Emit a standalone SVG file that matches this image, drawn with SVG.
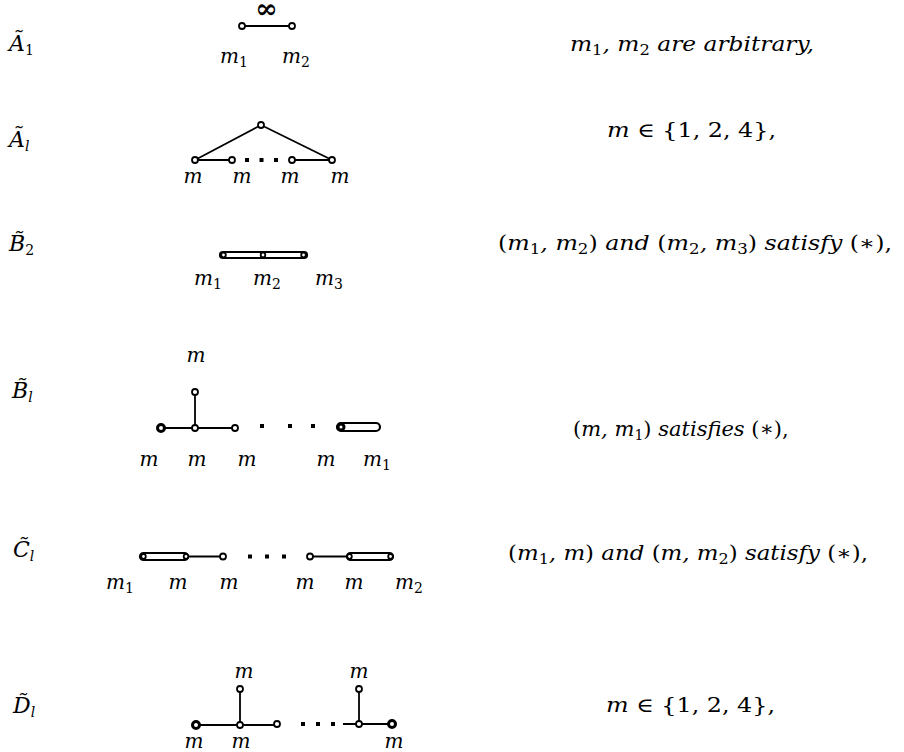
<svg xmlns="http://www.w3.org/2000/svg" width="904" height="752" viewBox="0 0 904 752">
<style>
.t{font-family:"DejaVu Serif","Liberation Serif",serif;font-style:italic;font-size:20px;fill:#000}
.L{font-family:"DejaVu Serif","Liberation Serif",serif;font-style:italic;font-size:22px;fill:#000}
.s{font-size:14px;font-style:normal}
.si{font-size:14px}
.u{font-style:normal}
.e{stroke:#000;stroke-width:1.8;fill:none}
.n{fill:#fff;stroke:#000;stroke-width:1.8}
.nb{fill:#fff;stroke:#000;stroke-width:3}
.db{fill:#fff;stroke:#000;stroke-width:2.2}
.d{fill:#000}
</style>
<rect width="904" height="752" fill="#fff"/>

<!-- Row labels -->
<g id="label-A1"><text class="L" x="9" y="51">Ã<tspan class="s" dy="4">1</tspan></text></g>
<g id="label-Al"><text class="L" x="9" y="147">Ã<tspan class="si" dy="4">l</tspan></text></g>
<g id="label-B2"><text class="L" x="9" y="251">B̃<tspan class="s" dy="4">2</tspan></text></g>
<g id="label-Bl"><text class="L" x="12" y="398">B̃<tspan class="si" dy="4">l</tspan></text></g>
<g id="label-Cl"><text class="L" x="13" y="557">C̃<tspan class="si" dy="4">l</tspan></text></g>
<g id="label-Dl"><text class="L" x="13" y="713">D̃<tspan class="si" dy="4">l</tspan></text></g>

<!-- Connectors -->
<g id="connectors">
  <!-- A1 -->
  <line class="e" x1="242" y1="26" x2="292" y2="26"/>
  <!-- Al -->
  <line class="e" x1="261" y1="125" x2="195" y2="160"/>
  <line class="e" x1="261" y1="125" x2="332" y2="160"/>
  <line class="e" x1="195" y1="160" x2="232" y2="160"/>
  <line class="e" x1="292" y1="160" x2="332" y2="160"/>
  <!-- B2 -->
  <rect class="db" x="220" y="252" width="87" height="6" rx="3"/>
  <!-- Bl -->
  <line class="e" x1="195" y1="392" x2="195" y2="428"/>
  <line class="e" x1="161" y1="428" x2="235" y2="428"/>
  <rect class="db" x="337" y="423" width="43" height="8" rx="4"/>
  <!-- Cl -->
  <rect class="db" x="140" y="553" width="48" height="7" rx="3.5"/>
  <line class="e" x1="188" y1="556.5" x2="223" y2="556.5"/>
  <line class="e" x1="310" y1="556.5" x2="347" y2="556.5"/>
  <rect class="db" x="347" y="553" width="46" height="7" rx="3.5"/>
  <!-- Dl -->
  <line class="e" x1="196" y1="725" x2="277" y2="725"/>
  <line class="e" x1="240" y1="689" x2="240" y2="725"/>
  <line class="e" x1="343" y1="724" x2="392" y2="724"/>
  <line class="e" x1="359" y1="689" x2="359" y2="724"/>
</g>

<!-- Diagram A1 -->
<g id="diagram-A1">
  <text x="266.5" y="17.5" text-anchor="middle" style="font-family:'DejaVu Serif','Liberation Serif',serif;font-size:27px;font-weight:bold">∞</text>
  <circle class="n" cx="242" cy="26" r="3"/>
  <circle class="n" cx="292" cy="26" r="3"/>
  <text class="t" x="220" y="63">m<tspan class="s" dy="4">1</tspan></text>
  <text class="t" x="282" y="63">m<tspan class="s" dy="4">2</tspan></text>
</g>

<!-- Diagram Al -->
<g id="diagram-Al">
  <circle class="n" cx="261" cy="125" r="3"/>
  <circle class="n" cx="195" cy="160" r="3"/>
  <circle class="n" cx="232" cy="160" r="3"/>
  <circle class="n" cx="292" cy="160" r="3"/>
  <circle class="n" cx="332" cy="160" r="3"/>
  <rect class="d" x="245" y="158" width="4" height="4"/>
  <rect class="d" x="259.5" y="158" width="4" height="4"/>
  <rect class="d" x="274" y="158" width="4" height="4"/>
  <text class="t" x="193" y="183" text-anchor="middle">m</text>
  <text class="t" x="242" y="183" text-anchor="middle">m</text>
  <text class="t" x="290" y="183" text-anchor="middle">m</text>
  <text class="t" x="340" y="183" text-anchor="middle">m</text>
</g>

<!-- Diagram B2 -->
<g id="diagram-B2">
  <circle class="n" cx="223.5" cy="255" r="2.3"/>
  <circle class="n" cx="263" cy="255" r="2.3"/>
  <circle class="n" cx="303.5" cy="255" r="2.3"/>
  <text class="t" x="194" y="285">m<tspan class="s" dy="4">1</tspan></text>
  <text class="t" x="253" y="285">m<tspan class="s" dy="4">2</tspan></text>
  <text class="t" x="315" y="285">m<tspan class="s" dy="4">3</tspan></text>
</g>

<!-- Diagram Bl -->
<g id="diagram-Bl">
  <text class="t" x="196" y="362" text-anchor="middle">m</text>
  <circle class="n" cx="195" cy="392" r="3"/>
  <circle class="n" cx="195" cy="428" r="3"/>
  <circle class="nb" cx="161" cy="428" r="3.5"/>
  <circle class="n" cx="235" cy="428" r="3"/>
  <rect class="d" x="260" y="424" width="4" height="4"/>
  <rect class="d" x="288" y="424" width="4" height="4"/>
  <rect class="d" x="311" y="424" width="4" height="4"/>
  <circle class="nb" cx="341" cy="427" r="3"/>
  <text class="t" x="149" y="466" text-anchor="middle">m</text>
  <text class="t" x="197" y="466" text-anchor="middle">m</text>
  <text class="t" x="247" y="466" text-anchor="middle">m</text>
  <text class="t" x="326" y="466" text-anchor="middle">m</text>
  <text class="t" x="363" y="466">m<tspan class="s" dy="4">1</tspan></text>
</g>

<!-- Diagram Cl -->
<g id="diagram-Cl">
  <circle class="n" cx="143.5" cy="556.5" r="2.3"/>
  <circle class="n" cx="186" cy="556.5" r="2.3"/>
  <circle class="n" cx="223" cy="556.5" r="3"/>
  <rect class="d" x="248" y="554.5" width="4" height="4"/>
  <rect class="d" x="265" y="554.5" width="4" height="4"/>
  <rect class="d" x="282" y="554.5" width="4" height="4"/>
  <circle class="n" cx="310" cy="556.5" r="3"/>
  <circle class="n" cx="349.5" cy="556.5" r="2.3"/>
  <circle class="n" cx="390.5" cy="556.5" r="2.3"/>
  <text class="t" x="106" y="589">m<tspan class="s" dy="4">1</tspan></text>
  <text class="t" x="178" y="589" text-anchor="middle">m</text>
  <text class="t" x="229" y="589" text-anchor="middle">m</text>
  <text class="t" x="305" y="589" text-anchor="middle">m</text>
  <text class="t" x="354" y="589" text-anchor="middle">m</text>
  <text class="t" x="395" y="589">m<tspan class="s" dy="4">2</tspan></text>
</g>

<!-- Diagram Dl -->
<g id="diagram-Dl">
  <text class="t" x="244" y="678" text-anchor="middle">m</text>
  <text class="t" x="359" y="678" text-anchor="middle">m</text>
  <circle class="n" cx="240" cy="689" r="3"/>
  <circle class="n" cx="359" cy="689" r="3"/>
  <circle class="nb" cx="196" cy="725" r="3.5"/>
  <circle class="n" cx="240" cy="725" r="3"/>
  <circle class="n" cx="277" cy="724" r="3"/>
  <rect class="d" x="301" y="722" width="4" height="4"/>
  <rect class="d" x="316" y="722" width="4" height="4"/>
  <rect class="d" x="331" y="722" width="4" height="4"/>
  <circle class="n" cx="359" cy="724" r="3"/>
  <circle class="nb" cx="392" cy="724" r="3.5"/>
  <text class="t" x="194" y="748" text-anchor="middle">m</text>
  <text class="t" x="241" y="748" text-anchor="middle">m</text>
  <text class="t" x="394" y="748" text-anchor="middle">m</text>
</g>

<!-- Conditions -->
<g id="cond-A1"><text class="t" x="570" y="51" textLength="244" lengthAdjust="spacingAndGlyphs">m<tspan class="s" dy="4">1</tspan><tspan dy="-4">, m</tspan><tspan class="s" dy="4">2</tspan><tspan dy="-4"> are arbitrary,</tspan></text></g>
<g id="cond-Al"><text class="t" x="607" y="137" textLength="169" lengthAdjust="spacingAndGlyphs">m <tspan class="u">∈ {1, 2, 4},</tspan></text></g>
<g id="cond-B2"><text class="t" x="498" y="250" textLength="394" lengthAdjust="spacingAndGlyphs"><tspan class="u">(</tspan>m<tspan class="s" dy="4">1</tspan><tspan dy="-4">, m</tspan><tspan class="s" dy="4">2</tspan><tspan dy="-4" class="u">)</tspan> and <tspan class="u">(</tspan>m<tspan class="s" dy="4">2</tspan><tspan dy="-4">, m</tspan><tspan class="s" dy="4">3</tspan><tspan dy="-4" class="u">)</tspan> satisfy <tspan class="u">(∗),</tspan></text></g>
<g id="cond-Bl"><text class="t" x="573" y="436" style="font-size:21px"><tspan class="u">(</tspan>m, m<tspan class="s" dy="4">1</tspan><tspan dy="-4" class="u">)</tspan> satisfies <tspan class="u">(∗),</tspan></text></g>
<g id="cond-Cl"><text class="t" x="508" y="560" textLength="360" lengthAdjust="spacingAndGlyphs"><tspan class="u">(</tspan>m<tspan class="s" dy="4">1</tspan><tspan dy="-4">, m</tspan><tspan class="u">)</tspan> and <tspan class="u">(</tspan>m, m<tspan class="s" dy="4">2</tspan><tspan dy="-4" class="u">)</tspan> satisfy <tspan class="u">(∗),</tspan></text></g>
<g id="cond-Dl"><text class="t" x="606" y="712" textLength="169" lengthAdjust="spacingAndGlyphs">m <tspan class="u">∈ {1, 2, 4},</tspan></text></g>
</svg>
